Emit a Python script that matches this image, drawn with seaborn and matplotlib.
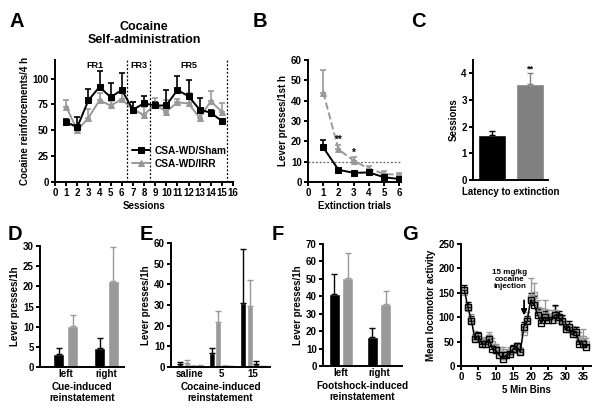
import numpy as np
import pandas as pd
import matplotlib
matplotlib.use("Agg")
import matplotlib.pyplot as plt
import seaborn as sns

# ---- data ----
sessions = list(range(1, 16))
sa_sham = [58, 53, 79, 92, 82, 89, 70, 76, 74, 74, 89, 83, 70, 67, 59]
sa_sham_err = [3, 10, 11, 15, 14, 16, 7, 7, 3, 15, 14, 16, 11, 3, 2]
sa_irr = [73, 50, 62, 79, 74, 80, 70, 65, 75, 68, 77, 76, 62, 78, 68]
sa_irr_err = [6, 5, 9, 7, 4, 6, 7, 8, 6, 11, 3, 10, 8, 10, 8]

ext_trials = [1, 2, 3, 4, 5, 6]
ext_sham = [17, 6, 4.5, 4.7, 2.3, 1.5]
ext_sham_err = [3.5, 0.5, 0.5, 0.5, 0.5, 0.5]
ext_irr = [44, 16, 10.5, 6.5, 4, 3.5]
ext_irr_err = [11, 2, 2, 1.2, 1.5, 0.8]

latency = [1.68, 3.6]
latency_err = [0.15, 0.4]

levers = ["left", "right"]
cue_sham = [3.3, 4.6]
cue_sham_err = [1.4, 2.6]
cue_irr = [10.1, 21.3]
cue_irr_err = [2.9, 8.5]

doses = ["saline", "5", "15"]
coc_act_sham = [1.3, 7.0, 31.0]
coc_act_sham_err = [1.0, 2.0, 26.0]
coc_act_irr = [2.0, 22.0, 29.5]
coc_act_irr_err = [1.2, 5.0, 12.5]
coc_inact_sham = [0.5, 0.3, 1.5]
coc_inact_sham_err = [0.2, 0.2, 1.5]
coc_inact_irr = [0.6, 0.5, 0.5]
coc_inact_irr_err = [0.2, 0.2, 0.2]

shock_sham = [41.5, 16.5]
shock_sham_err = [11.5, 5.5]
shock_irr = [50.5, 35.3]
shock_irr_err = [14.5, 7.5]

bins = list(range(1, 37))
loco_sham = [155, 120, 92, 55, 62, 45, 45, 55, 35, 32, 22, 15, 22, 25, 35, 40, 28, 80,
             92, 135, 125, 105, 88, 100, 95, 95, 105, 100, 92, 75, 80, 65, 70, 45, 45, 38]
loco_sham_err = [10, 12, 10, 10, 8, 8, 8, 8, 8, 8, 6, 5, 6, 6, 8, 8, 6, 10,
                 10, 15, 18, 12, 12, 12, 12, 12, 20, 12, 12, 10, 12, 10, 10, 8, 8, 6]
loco_irr = [152, 118, 95, 60, 58, 48, 50, 58, 45, 35, 28, 20, 25, 28, 32, 35, 30, 70,
            95, 140, 145, 115, 100, 110, 100, 100, 108, 95, 90, 80, 75, 70, 65, 55, 55, 45]
loco_irr_err = [10, 10, 12, 12, 10, 10, 10, 12, 12, 10, 10, 18, 10, 10, 10, 10, 8, 12,
                15, 40, 25, 20, 18, 25, 15, 15, 15, 12, 12, 12, 12, 12, 15, 15, 20, 12]

BLACK = "#000000"
GRAY = "#999999"
DGRAY = "#808080"

sns.set_style("ticks")
plt.rcParams["font.family"] = ["Liberation Sans", "DejaVu Sans"]
plt.rcParams["font.weight"] = "bold"
plt.rcParams["axes.labelweight"] = "bold"
plt.rcParams["text.color"] = BLACK
plt.rcParams["axes.labelcolor"] = BLACK
plt.rcParams["axes.edgecolor"] = BLACK
plt.rcParams["xtick.color"] = BLACK
plt.rcParams["ytick.color"] = BLACK
plt.rcParams["axes.linewidth"] = 1.4
plt.rcParams["xtick.major.width"] = 1.4
plt.rcParams["ytick.major.width"] = 1.4
plt.rcParams["xtick.major.size"] = 3
plt.rcParams["ytick.major.size"] = 3
plt.rcParams["xtick.labelsize"] = 7
plt.rcParams["ytick.labelsize"] = 7
plt.rcParams["axes.labelsize"] = 7
plt.rcParams["xtick.major.pad"] = 1.5
plt.rcParams["ytick.major.pad"] = 1.5
plt.rcParams["axes.labelpad"] = 2

W, H = 600, 411
fig = plt.figure(figsize=(6.0, 4.11), dpi=100)


def px_axes(left, top, right, bottom):
    return fig.add_axes([left / W, 1 - bottom / H, (right - left) / W, (bottom - top) / H])


def up_err(ax, x, y, e, color, lw=1.2):
    ax.errorbar(x, y, yerr=[np.zeros(len(e)), e], fmt="none", ecolor=color,
                elinewidth=lw, capsize=2.5, capthick=lw, zorder=1)


def bar_errors(ax, errs, colors):
    patches = sorted(ax.patches, key=lambda p: p.get_x())
    for p, e, c in zip(patches, errs, colors):
        xc = p.get_x() + p.get_width() / 2
        up_err(ax, [xc], [p.get_height()], [e], c, lw=1.0)


def letter(x, y, s):
    fig.text(x / W, 1 - y / H, s, fontsize=14.5, fontweight="bold", va="top", ha="left",
             color=BLACK)


def clean(ax):
    sns.despine(ax=ax)


# ---- A ----
axA = px_axes(55, 60, 233, 182)
up_err(axA, sessions, sa_irr, sa_irr_err, GRAY)
up_err(axA, sessions, sa_sham, sa_sham_err, BLACK)
sns.lineplot(x=sessions, y=sa_irr, ax=axA, color=GRAY, marker="^", markersize=4.5,
             markeredgecolor=GRAY, linewidth=1.4, label="CSA-WD/IRR")
sns.lineplot(x=sessions, y=sa_sham, ax=axA, color=BLACK, marker="s", markersize=4,
             markeredgecolor=BLACK, linewidth=1.4, label="CSA-WD/Sham")
for xv in [6.5, 8.5, 15.5]:
    axA.axvline(xv, color=BLACK, linestyle=(0, (1.5, 1.5)), linewidth=0.9)
for xv, s in [(3.6, "FR1"), (7.5, "FR3"), (12.0, "FR5")]:
    axA.text(xv, 117, s, ha="center", va="top", fontsize=6.5, fontweight="bold")
axA.set_xlim(0, 16)
axA.set_ylim(0, 118)
axA.set_xticks(range(0, 17))
axA.set_yticks([0, 25, 50, 75, 100])
axA.set_xlabel("Sessions")
axA.set_ylabel("Cocaine reinforcements/4 h")
h, l = axA.get_legend_handles_labels()
axA.legend(h[::-1], l[::-1], loc="upper left", bbox_to_anchor=(0.41, 0.33), frameon=False,
           fontsize=7.3, handlelength=1.8, handletextpad=0.4, labelspacing=0.3,
           borderaxespad=0)
axA.set_title("Cocaine\nSelf-administration", fontsize=9, fontweight="bold", pad=12,
              linespacing=1.1)
clean(axA)

# ---- B ----
axB = px_axes(308, 60, 401, 182)
up_err(axB, ext_trials, ext_irr, ext_irr_err, GRAY)
up_err(axB, ext_trials, ext_sham, ext_sham_err, BLACK)
sns.lineplot(x=ext_trials, y=ext_irr, ax=axB, color=GRAY, marker="^", markersize=4.5,
             markeredgecolor=GRAY, linewidth=1.4, linestyle="--")
sns.lineplot(x=ext_trials, y=ext_sham, ax=axB, color=BLACK, marker="s", markersize=4,
             markeredgecolor=BLACK, linewidth=1.4)
axB.axhline(10, color="#666666", linestyle=(0, (1.5, 1.5)), linewidth=0.9, zorder=0)
axB.text(2, 19.5, "**", ha="center", fontsize=7, fontweight="bold")
axB.text(3, 12.8, "*", ha="center", fontsize=7, fontweight="bold")
axB.set_xlim(0, 6.1)
axB.set_ylim(0, 60)
axB.set_xticks(range(0, 7))
axB.set_yticks(range(0, 61, 10))
axB.set_xlabel("Extinction trials")
axB.set_ylabel("Lever presses/1st h")
clean(axB)

# ---- C ----
axC = px_axes(473, 60, 548, 180)
dfC = pd.DataFrame({"group": ["Sham", "IRR"], "val": latency})
sns.barplot(data=dfC, x="group", y="val", hue="group", palette=[BLACK, DGRAY],
            width=0.72, ax=axC, legend=False, errorbar=None, saturation=1)
bar_errors(axC, latency_err, [BLACK, DGRAY])
axC.text(1, 4.08, "**", ha="center", fontsize=6.5, fontweight="bold")
axC.set_xlim(-0.5, 1.47)
axC.set_ylim(0, 4.5)
axC.set_yticks([0, 1, 2, 3, 4])
axC.set_xticks([])
axC.set_xlabel("Latency to extinction", fontsize=7, labelpad=5)
axC.set_ylabel("Sessions")
clean(axC)


def grouped(ax, cats, series, colors, width, gap):
    rows = []
    for name, vals in series:
        for c, v in zip(cats, vals):
            rows.append({"cat": c, "grp": name, "val": v})
    df = pd.DataFrame(rows)
    sns.barplot(data=df, x="cat", y="val", hue="grp", palette=colors, width=width,
                gap=gap, ax=ax, legend=False, errorbar=None, saturation=1)


# ---- D ----
axD = px_axes(40, 246, 124, 367)
grouped(axD, levers, [("Sham", cue_sham), ("IRR", cue_irr)], [BLACK, GRAY], 0.68, 0.2)
errs, cols = [], []
for i in range(2):
    errs += [cue_sham_err[i], cue_irr_err[i]]
    cols += [BLACK, GRAY]
bar_errors(axD, errs, cols)
axD.set_xlim(-0.63, 1.43)
axD.set_ylim(0, 30)
axD.set_yticks(range(0, 31, 5))
axD.tick_params(axis="x", length=0)
axD.set_xlabel("Cue-induced\nreinstatement", fontsize=7.2, linespacing=1.1)
axD.set_ylabel("Lever presses/1h")
clean(axD)

# ---- E ----
axE = px_axes(171, 243, 270, 367)
grouped(axE, doses, [("a_sham", coc_act_sham), ("a_irr", coc_act_irr),
                     ("i_sham", coc_inact_sham), ("i_irr", coc_inact_irr)],
        [BLACK, GRAY, BLACK, GRAY], 0.82, 0.06)
errs, cols = [], []
for i in range(3):
    errs += [coc_act_sham_err[i], coc_act_irr_err[i], coc_inact_sham_err[i], coc_inact_irr_err[i]]
    cols += [BLACK, GRAY, BLACK, GRAY]
bar_errors(axE, errs, cols)
axE.set_xlim(-0.6, 2.54)
axE.set_ylim(0, 60)
axE.set_yticks(range(0, 61, 10))
axE.tick_params(axis="x", length=0)
axE.set_xlabel("Cocaine-induced\nreinstatement", fontsize=7.2, linespacing=1.1)
axE.set_ylabel("Lever presses/1h")
clean(axE)

# ---- F ----
axF = px_axes(323, 244, 402, 366)
grouped(axF, levers, [("Sham", shock_sham), ("IRR", shock_irr)], [BLACK, GRAY], 0.72, 0.2)
errs, cols = [], []
for i in range(2):
    errs += [shock_sham_err[i], shock_irr_err[i]]
    cols += [BLACK, GRAY]
bar_errors(axF, errs, cols)
axF.set_xlim(-0.47, 1.6)
axF.set_ylim(0, 70)
axF.set_yticks(range(0, 71, 10))
axF.tick_params(axis="x", length=0)
axF.set_xlabel("Footshock-induced\nreinstatement", fontsize=7.2, linespacing=1.1)
axF.set_ylabel("Lever presses/1h")
clean(axF)

# ---- G ----
axG = px_axes(461, 244, 591, 366)
up_err(axG, bins, loco_irr, loco_irr_err, GRAY, lw=1.0)
up_err(axG, bins, loco_sham, loco_sham_err, BLACK, lw=1.0)
sns.lineplot(x=bins, y=loco_irr, ax=axG, color=GRAY, marker="s", markersize=5,
             markerfacecolor="none", markeredgecolor=GRAY, markeredgewidth=1.0, linewidth=1.0)
sns.lineplot(x=bins, y=loco_sham, ax=axG, color=BLACK, marker="s", markersize=5,
             markerfacecolor="none", markeredgecolor=BLACK, markeredgewidth=1.0, linewidth=1.0)
axG.annotate("", xy=(18.1, 98), xytext=(18.1, 140),
             arrowprops=dict(arrowstyle="-|>", color=BLACK, lw=1.3, mutation_scale=8))
axG.text(14, 178, "15 mg/kg\ncocaine\ninjection", ha="center", va="center", fontsize=5.8,
         fontweight="bold", linespacing=1.0)
axG.set_xlim(0, 37.3)
axG.set_ylim(0, 250)
axG.set_xticks(range(0, 36, 5))
axG.set_yticks(range(0, 251, 50))
axG.set_xlabel("5 Min Bins")
axG.set_ylabel("Mean locomotor activity")
clean(axG)

letter(10, 12, "A")
letter(253, 12, "B")
letter(411, 12, "C")
letter(8, 225, "D")
letter(140, 225, "E")
letter(272, 225, "F")
letter(402, 225, "G")

fig.savefig("out.png", dpi=100)
